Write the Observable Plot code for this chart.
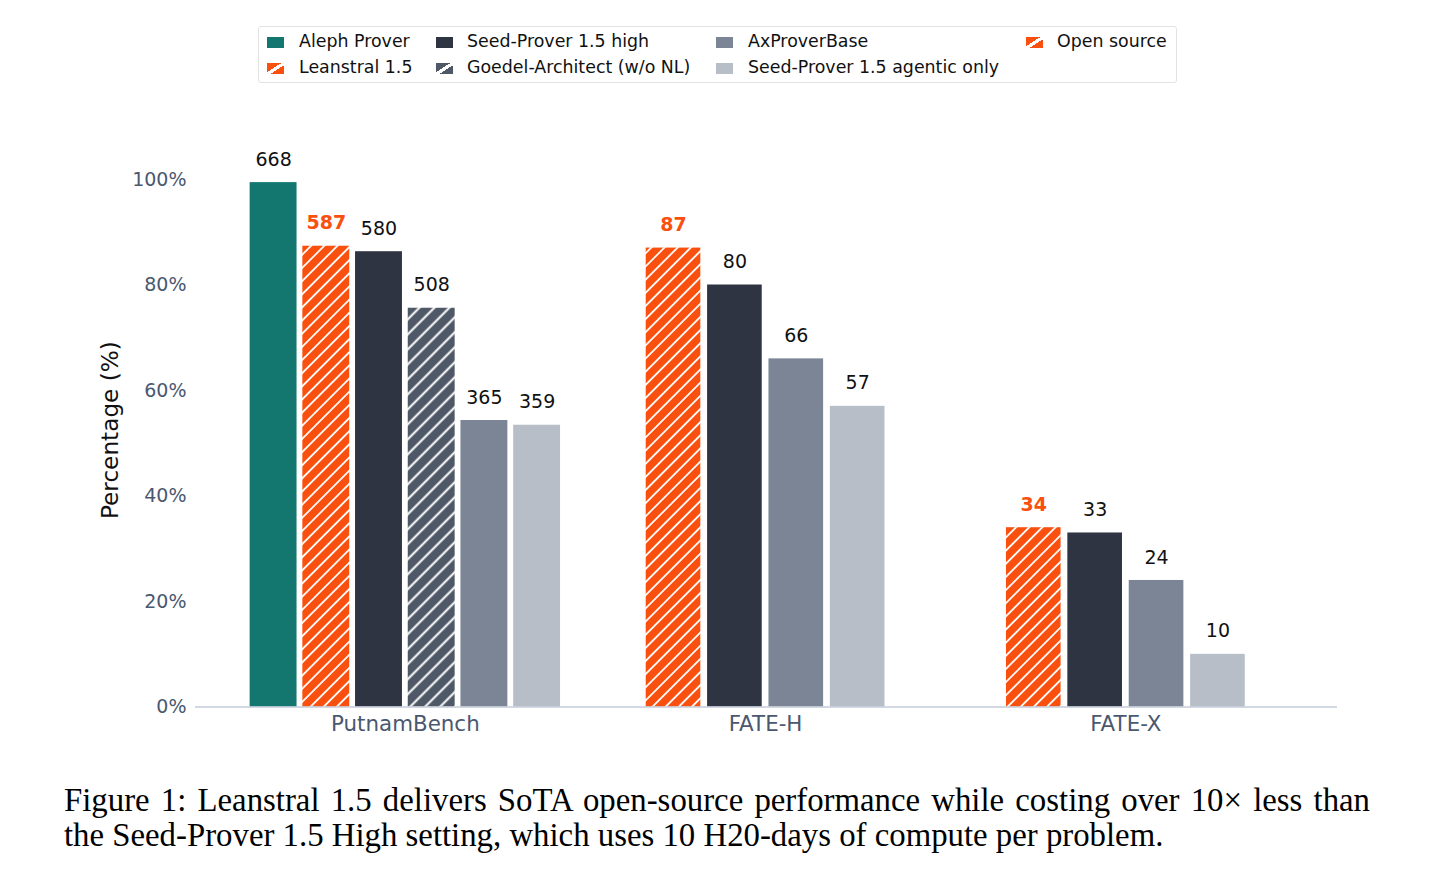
<!DOCTYPE html>
<html>
<head>
<meta charset="utf-8">
<script src="https://cdn.jsdelivr.net/npm/d3@7"></script>
<script src="https://cdn.jsdelivr.net/npm/@observablehq/plot@0.6"></script>
<style>
  html, body { margin: 0; padding: 0; background: #fff; }
  body { width: 1456px; height: 888px; position: relative; overflow: hidden; font-family: "DejaVu Sans", sans-serif; }
  #legend { position: absolute; left: 258px; top: 26px; width: 919px; height: 57px; border: 1px solid #e3e3e3; border-radius: 3px; box-sizing: border-box; }
  .item { position: absolute; font-size: 17.4px; color: #111; white-space: nowrap; line-height: 20px; }
  .sw { position: absolute; width: 17px; height: 11px; }
  #chart { position: absolute; left: 0; top: 90px; }
  .cap { position: absolute; left: 64px; width: 1306px; font-family: "Liberation Serif", "Times New Roman", serif; font-size: 32.8px; line-height: 35px; color: #000; white-space: nowrap; }
  #cap1 { top: 783px; text-align: justify; text-align-last: justify; white-space: normal; }
  #cap2 { top: 818px; }
</style>
</head>
<body>
<div id="legend"></div>
<div id="chart"></div>
<div class="cap" id="cap1"></div>
<div class="cap" id="cap2"></div>
<script>
// ---------------- data ----------------
const benchmarks = ["PutnamBench", "FATE-H", "FATE-X"];
const totals = [672, 100, 100];
const models = ["Aleph Prover", "Leanstral 1.5", "Seed-Prover 1.5 high", "Goedel-Architect (w/o NL)", "AxProverBase", "Seed-Prover 1.5 agentic only"];
const alephProver = [668, null, null];
const leanstral = [587, 87, 34];
const seedHigh = [580, 80, 33];
const goedel = [508, null, null];
const axProverBase = [365, 66, 24];
const seedAgentic = [359, 57, 10];
const yTicks = [0, 20, 40, 60, 80, 100];
const openSourceLabel = "Open source";
const yLabel = "Percentage (%)";
const captionLines = [
  "Figure 1: Leanstral 1.5 delivers SoTA open-source performance while costing over 10× less than",
  "the Seed-Prover 1.5 High setting, which uses 10 H20-days of compute per problem."
];

// ---------------- styles ----------------
const ORANGE = "#F9500F";
const SLATE = "#4E5866";
const colors = {
  "Aleph Prover": "#13776F",
  "Leanstral 1.5": "url(#hatch-orange)",
  "Seed-Prover 1.5 high": "#2E3441",
  "Goedel-Architect (w/o NL)": "url(#hatch-slate)",
  "AxProverBase": "#7B8595",
  "Seed-Prover 1.5 agentic only": "#B8BEC8"
};
const stripe = c => `linear-gradient(to bottom right, ${c} 42%, #fff 42%, #fff 60%, ${c} 60%)`;
const swatchCss = {
  "Aleph Prover": "#13776F",
  "Leanstral 1.5": stripe(ORANGE),
  "Seed-Prover 1.5 high": "#2E3441",
  "Goedel-Architect (w/o NL)": stripe(SLATE),
  "AxProverBase": "#7B8595",
  "Seed-Prover 1.5 agentic only": "#B8BEC8",
  "Open source": stripe(ORANGE)
};

document.getElementById("cap1").textContent = captionLines[0];
document.getElementById("cap2").textContent = captionLines[1];

// ---------------- rows ----------------
const series = [alephProver, leanstral, seedHigh, goedel, axProverBase, seedAgentic];
const rows = [];
benchmarks.forEach((b, g) => {
  const present = models.map((m, i) => ({m, v: series[i][g]})).filter(d => d.v != null);
  const n = present.length;
  const step = n >= 6 ? 0.1463 : 0.1704;
  const bw = step * 0.89;
  present.forEach((d, k) => {
    const xc = g + (k - (n - 1) / 2) * step;
    rows.push({benchmark: b, model: d.m, count: d.v, pct: 100 * d.v / totals[g], xc, x1: xc - bw / 2, x2: xc + bw / 2});
  });
});

// ---------------- legend ----------------
const legendEntries = [
  {label: models[0], col: 0, row: 0},
  {label: models[1], col: 0, row: 1},
  {label: models[2], col: 1, row: 0},
  {label: models[3], col: 1, row: 1},
  {label: models[4], col: 2, row: 0},
  {label: models[5], col: 2, row: 1},
  {label: openSourceLabel, col: 3, row: 0}
];
const colSw = [8, 177, 457, 767];
const colTx = [40, 208, 489, 798];
const rowY = [9, 35];
const legend = document.getElementById("legend");
legendEntries.forEach(e => {
  const sw = document.createElement("div");
  sw.className = "sw";
  sw.style.left = colSw[e.col] + "px";
  sw.style.top = (rowY[e.row] + 0.5) + "px";
  sw.style.background = swatchCss[e.label];
  legend.appendChild(sw);
  const t = document.createElement("div");
  t.className = "item";
  t.style.left = colTx[e.col] + "px";
  t.style.top = (rowY[e.row] - 5) + "px";
  t.textContent = e.label;
  legend.appendChild(t);
});

// ---------------- chart ----------------
const tickColor = "#4A5870";
const svg = Plot.plot({
  width: 1456,
  height: 680,
  marginLeft: 195,
  marginRight: 119,
  marginTop: 62.6,
  marginBottom: 63.4,
  style: {fontFamily: "DejaVu Sans, sans-serif", background: "transparent", overflow: "visible"},
  x: {type: "linear", domain: [-0.5825, 2.5875], label: null},
  y: {type: "linear", domain: [0, 105], label: null},
  color: {type: "ordinal", domain: models, range: models.map(m => colors[m])},
  marks: [
    Plot.rect(rows, {x1: "x1", x2: "x2", y1: () => 0, y2: "pct", fill: "model"}),
    Plot.ruleY([0], {stroke: "#C3CDD9", strokeWidth: 1.5}),
    Plot.axisY({ticks: yTicks, tickFormat: d => d + "%", tickSize: 0, tickPadding: 9, fontSize: 19, fill: tickColor, label: null}),
    Plot.axisX({ticks: [0, 1, 2], tickFormat: i => benchmarks[i], tickSize: 0, tickPadding: 9, fontSize: 21.4, fill: tickColor, label: null}),
    Plot.text(rows.filter(d => d.model !== "Leanstral 1.5"), {x: "xc", y: "pct", text: d => String(d.count), dy: -23, fontSize: 19, fill: "#111"}),
    Plot.text(rows.filter(d => d.model === "Leanstral 1.5"), {x: "xc", y: "pct", text: d => String(d.count), dy: -23, fontSize: 19, fontWeight: "bold", fill: ORANGE}),
    Plot.text([yLabel], {frameAnchor: "left", textAnchor: "middle", dx: -85, rotate: -90, fontSize: 23.2, fill: "#111"})
  ]
});

// hatch patterns
const defs = d3.select(svg).insert("defs", ":first-child");
function hatch(id, bg, spacing, lw) {
  const p = defs.append("pattern")
    .attr("id", id)
    .attr("patternUnits", "userSpaceOnUse")
    .attr("width", spacing)
    .attr("height", spacing)
    .attr("patternTransform", "rotate(45)");
  p.append("rect").attr("width", spacing).attr("height", spacing).attr("fill", bg);
  p.append("line").attr("x1", spacing / 2).attr("y1", -1).attr("x2", spacing / 2).attr("y2", spacing + 1)
    .attr("stroke", "#fff").attr("stroke-width", lw);
}
hatch("hatch-orange", ORANGE, 9.3, 1.8);
hatch("hatch-slate", SLATE, 10.6, 2);

document.getElementById("chart").appendChild(svg);
</script>
</body>
</html>
